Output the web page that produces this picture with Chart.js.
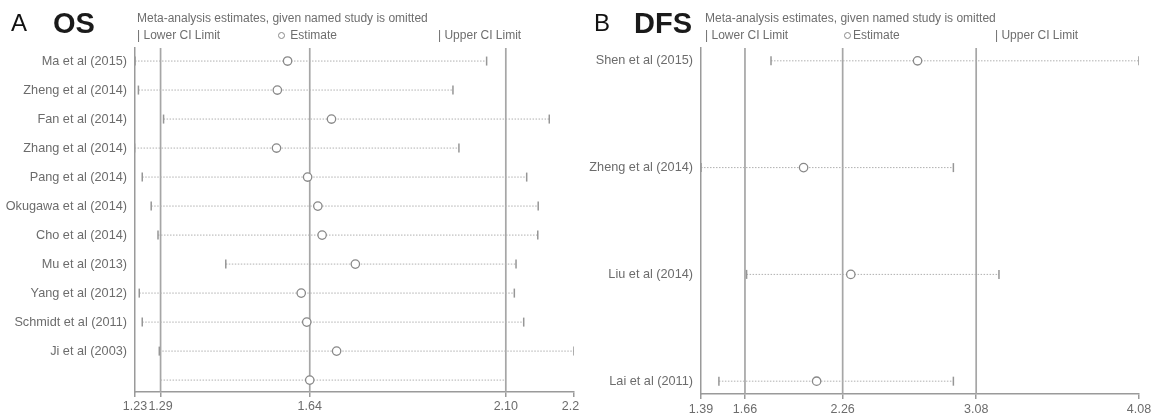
<!DOCTYPE html>
<html><head><meta charset="utf-8">
<script src="https://cdn.jsdelivr.net/npm/chart.js@4.4.1/dist/chart.umd.min.js"></script>
<style>
html,body{margin:0;padding:0;background:#fff;}
body{width:1157px;height:417px;position:relative;overflow:hidden;font-family:"Liberation Sans",Arial,sans-serif;}
canvas{position:absolute;top:0;}
.t{position:absolute;line-height:1;white-space:nowrap;}
.big{font-size:24px;color:#111;}
.hd{font-size:29px;font-weight:bold;color:#1a1a1a;}
.sm{font-size:12px;color:#6e6e6e;}
.dot{display:inline-block;width:5px;height:5px;border:1px solid #888;border-radius:50%;vertical-align:0px;margin-right:2px;}
</style></head>
<body>
<canvas id="c1" width="580" height="417" style="left:0"></canvas>
<canvas id="c2" width="577" height="417" style="left:580px"></canvas>

<div class="t big" style="left:11px;top:11px">A</div>
<div class="t hd" style="left:53px;top:9px">OS</div>
<div class="t sm" style="left:137px;top:12px">Meta-analysis estimates, given named study is omitted</div>
<div class="t sm" style="left:137px;top:29px">| Lower CI Limit</div>
<div class="t sm" style="left:278px;top:29px"><span class="dot"></span> Estimate</div>
<div class="t sm" style="left:438px;top:29px">| Upper CI Limit</div>

<div class="t big" style="left:594px;top:11px">B</div>
<div class="t hd" style="left:634px;top:9px">DFS</div>
<div class="t sm" style="left:705px;top:12px">Meta-analysis estimates, given named study is omitted</div>
<div class="t sm" style="left:705px;top:29px">| Lower CI Limit</div>
<div class="t sm" style="left:844px;top:29px"><span class="dot"></span>Estimate</div>
<div class="t sm" style="left:995px;top:29px">| Upper CI Limit</div>

<script>
// ---- OS panel data ----
const osStudies = ["Ma et al (2015)","Zheng et al (2014)","Fan et al (2014)","Zhang et al (2014)","Pang et al (2014)","Okugawa et al (2014)","Cho et al (2014)","Mu et al (2013)","Yang et al (2012)","Schmidt et al (2011)","Ji et al (2003)"];
const osLower    = [1.23, 1.238, 1.297, 1.229, 1.247, 1.268, 1.284, 1.443, 1.240, 1.247, 1.287];
const osEstimate = [1.588, 1.564, 1.691, 1.562, 1.635, 1.659, 1.669, 1.747, 1.620, 1.633, 1.703];
const osUpper    = [2.055, 1.976, 2.202, 1.990, 2.149, 2.176, 2.175, 2.124, 2.120, 2.142, 2.26];
const osPooled   = [1.29, 1.64, 2.10];   // lower, estimate, upper
const osTicks    = [1.23, 1.29, 1.64, 2.10, 2.26];

// ---- DFS panel data ----
const dfsStudies  = ["Shen et al (2015)","Zheng et al (2014)","Liu et al (2014)","Lai et al (2011)"];
const dfsLower    = [1.82, 1.39, 1.67, 1.50];
const dfsEstimate = [2.72, 2.02, 2.31, 2.10];
const dfsUpper    = [4.08, 2.94, 3.22, 2.94];
const dfsPooled   = [1.66, 2.26, 3.08];
const dfsTicks    = [1.39, 1.66, 2.26, 3.08, 4.08];

const GRID = '#a6a6a6';
const AXIS = '#9a9a9a';
const TXT = '#6c6c6c';

function buildPanel(canvasId, p) {
  const n = p.studies.length;
  const labels = p.studies.slice();
  const circles = p.est.map((v, i) => ({x: v, y: i}));
  const caps = [];
  p.lower.forEach((v, i) => caps.push({x: v, y: i}));
  p.upper.forEach((v, i) => caps.push({x: v, y: i}));
  const datasets = [];
  datasets.push({
    data: circles, showLine: false, order: 0,
    pointRadius: 4.2, pointBorderWidth: 1.3, pointBorderColor: '#888888', pointBackgroundColor: '#ffffff'
  });
  datasets.push({
    data: caps, showLine: false, order: 1,
    pointStyle: 'line', pointRotation: 90, pointRadius: 4.5, pointBorderWidth: 1.5, pointBorderColor: '#969696'
  });
  for (let i = 0; i < n; i++) {
    datasets.push({
      data: [{x: p.lower[i], y: i}, {x: p.upper[i], y: i}], showLine: true, order: 2,
      borderColor: '#b0b0b0', borderWidth: 1, borderDash: [1.5, 1.5], pointRadius: 0
    });
  }
  if (p.pooledRow) {
    labels.push('');
    circles.push({x: p.pooled[1], y: n});
    datasets.push({
      data: [{x: p.pooled[0], y: n}, {x: p.pooled[2], y: n}], showLine: true, order: 2,
      borderColor: '#b0b0b0', borderWidth: 1, borderDash: [1.5, 1.5], pointRadius: 0
    });
  }
  p.pooled.forEach(v => {
    datasets.push({
      data: [{x: v, y: p.yMin}, {x: v, y: p.yMax}], showLine: true, order: 3,
      borderColor: GRID, borderWidth: 1.7, pointRadius: 0
    });
  });

  new Chart(document.getElementById(canvasId), {
    type: 'scatter',
    data: {datasets},
    options: {
      responsive: false, animation: false, devicePixelRatio: 1,
      layout: {padding: {left: 0, right: p.padRight, top: 48, bottom: 0}},
      plugins: {legend: {display: false}, tooltip: {enabled: false}},
      elements: {line: {tension: 0}},
      scales: {
        x: {
          type: 'linear', min: p.ticks[0], max: p.ticks[p.ticks.length - 1],
          afterBuildTicks: s => { s.ticks = p.ticks.map(v => ({value: v})); },
          afterFit: s => { s.height = p.xHeight; s.paddingLeft = 0; s.paddingRight = 0; },
          ticks: {autoSkip: false, maxRotation: 0, minRotation: 0, color: TXT, padding: p.xPad,
                  font: {family: 'Liberation Sans', size: 12.5},
                  callback: v => Number(v).toFixed(2)},
          grid: {drawOnChartArea: false, drawTicks: true, tickLength: 5, color: AXIS, lineWidth: 1.5},
          border: {display: true, color: AXIS, width: 1.5}
        },
        y: {
          type: 'linear', reverse: true, min: p.yMin, max: p.yMax,
          afterBuildTicks: s => { s.ticks = labels.map((_, i) => ({value: i})); },
          afterFit: s => { s.width = p.yWidth; s.paddingTop = 0; s.paddingBottom = 0; },
          ticks: {autoSkip: false, color: TXT, padding: 8,
                  font: {family: 'Liberation Sans', size: 12.7},
                  callback: v => labels[v] || ''},
          grid: {display: false, drawTicks: false},
          border: {display: true, color: AXIS, width: 1.5}
        }
      }
    }
  });
}

buildPanel('c1', {
  studies: osStudies, lower: osLower, est: osEstimate, upper: osUpper,
  pooled: osPooled, ticks: osTicks, pooledRow: true,
  yMin: -0.45, yMax: 11.41, yWidth: 135, xHeight: 25, padRight: 6, xPad: 2
});
buildPanel('c2', {
  studies: dfsStudies, lower: dfsLower, est: dfsEstimate, upper: dfsUpper,
  pooled: dfsPooled, ticks: dfsTicks, pooledRow: false,
  yMin: -0.12, yMax: 3.12, yWidth: 121, xHeight: 23, padRight: 18, xPad: 3
});
</script>
</body></html>
